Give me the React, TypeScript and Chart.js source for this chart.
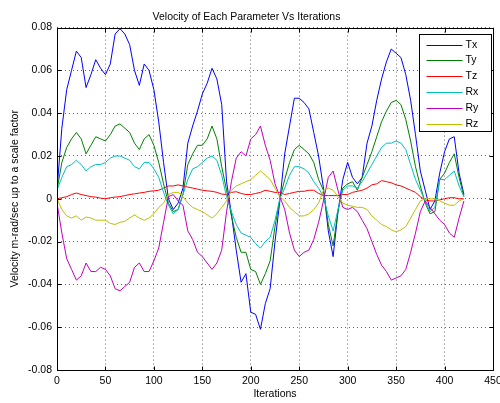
import React, { useEffect, useRef } from "react";
import { Chart, registerables } from "chart.js";

Chart.register(...registerables);

const iterations = [
  0, 5, 10, 15, 20, 25, 30, 35, 40, 45,
  50, 55, 60, 65, 70, 75, 80, 85, 90, 95,
  100, 105, 110, 115, 120, 125, 130, 135, 140, 145,
  150, 155, 160, 165, 170, 175, 180, 185, 190, 195,
  200, 205, 210, 215, 220, 225, 230, 235, 240, 245,
  250, 255, 260, 265, 270, 275, 280, 285, 290, 295,
  300, 305, 310, 315, 320, 325, 330, 335, 340, 345,
  350, 355, 360, 365, 370, 375, 380, 385, 390, 395,
  400, 405, 410, 415, 420,
];

const tx = [
  0.004, 0.033, 0.051, 0.060, 0.069, 0.066, 0.052, 0.058, 0.065, 0.061,
  0.058, 0.063, 0.077, 0.0795, 0.077, 0.072, 0.060, 0.053, 0.063, 0.060,
  0.051, 0.036, 0.017, 0.000, -0.005, -0.002, 0.005, 0.026, 0.034, 0.041,
  0.049, 0.054, 0.061, 0.056, 0.044, 0.008, -0.007, -0.024, -0.039, -0.035,
  -0.053, -0.054, -0.061, -0.049, -0.042, -0.020, -0.001, 0.021, 0.034, 0.047,
  0.047, 0.045, 0.042, 0.031, 0.020, 0.005, -0.015, -0.027, -0.006, 0.009,
  0.017, 0.010, 0.007, 0.010, 0.026, 0.034, 0.046, 0.056, 0.064, 0.070,
  0.068, 0.066, 0.058, 0.046, 0.030, 0.013, 0.004, -0.005, -0.001, 0.012,
  0.022, 0.028, 0.029, 0.012, 0.002,
];

const ty = [
  0.004, 0.017, 0.024, 0.028, 0.031, 0.028, 0.021, 0.025, 0.029, 0.028,
  0.027, 0.030, 0.034, 0.035, 0.033, 0.031, 0.026, 0.023, 0.028, 0.030,
  0.025, 0.017, 0.007, -0.002, -0.006, -0.005, 0.002, 0.016, 0.021, 0.025,
  0.025, 0.028, 0.034, 0.028, 0.015, 0.004, -0.008, -0.018, -0.025, -0.025,
  -0.033, -0.034, -0.040, -0.035, -0.029, -0.013, 0.000, 0.009, 0.017, 0.023,
  0.025, 0.023, 0.021, 0.017, 0.009, 0.004, -0.012, -0.022, -0.006, 0.005,
  0.007, 0.008, 0.004, 0.010, 0.016, 0.022, 0.029, 0.036, 0.041, 0.045,
  0.046, 0.044, 0.037, 0.027, 0.015, 0.006, -0.002, -0.007, -0.006, 0.009,
  0.012, 0.017, 0.021, 0.010, 0.001,
];

const tz = [
  0.000, 0.0005, 0.001, 0.002, 0.0027, 0.002, 0.0015, 0.001, 0.0008, 0.0003,
  0.000, 0.0005, 0.0008, 0.001, 0.0015, 0.002, 0.0023, 0.0027, 0.003, 0.0035,
  0.0037, 0.004, 0.005, 0.006, 0.006, 0.0065, 0.006, 0.0055, 0.005, 0.0045,
  0.004, 0.0037, 0.0035, 0.003, 0.0022, 0.002, 0.003, 0.0033, 0.0025, 0.002,
  0.002, 0.0025, 0.003, 0.004, 0.0035, 0.003, 0.003, 0.002, 0.0025, 0.003,
  0.0035, 0.0035, 0.004, 0.004, 0.0025, 0.0015, 0.0015, 0.0015, 0.0015, 0.002,
  0.002, 0.003, 0.0035, 0.004, 0.005, 0.0065, 0.007, 0.0085, 0.008, 0.0075,
  0.0065, 0.006, 0.005, 0.004, 0.003, 0.001, -0.0005, -0.001, -0.001, -0.0005,
  0.000, 0.0005, 0.0005, 0.000, 0.000,
];

const rx = [
  0.004, 0.010, 0.015, 0.016, 0.018, 0.016, 0.013, 0.015, 0.016, 0.016,
  0.017, 0.019, 0.020, 0.020, 0.019, 0.018, 0.015, 0.014, 0.017, 0.017,
  0.014, 0.010, 0.003, -0.003, -0.007, -0.005, 0.002, 0.009, 0.014, 0.015,
  0.017, 0.019, 0.020, 0.018, 0.011, 0.001, -0.006, -0.012, -0.016, -0.017,
  -0.018, -0.021, -0.023, -0.020, -0.018, -0.010, 0.000, 0.005, 0.011, 0.015,
  0.015, 0.014, 0.012, 0.008, 0.005, 0.001, -0.008, -0.015, -0.005, 0.004,
  0.006, 0.006, 0.005, 0.008, 0.012, 0.016, 0.020, 0.024, 0.026, 0.026,
  0.027, 0.026, 0.023, 0.016, 0.009, 0.004, -0.001, -0.006, -0.004, 0.009,
  0.009, 0.011, 0.013, 0.006, 0.001,
];

const ry = [
  -0.002, -0.016, -0.028, -0.033, -0.038, -0.036, -0.030, -0.034, -0.034, -0.032,
  -0.033, -0.036, -0.042, -0.043, -0.041, -0.039, -0.032, -0.030, -0.034, -0.034,
  -0.029, -0.023, -0.011, 0.001, 0.002, -0.001, -0.003, -0.015, -0.019, -0.025,
  -0.027, -0.030, -0.033, -0.030, -0.024, -0.006, 0.008, 0.019, 0.022, 0.020,
  0.028, 0.030, 0.034, 0.025, 0.018, 0.007, 0.001, -0.005, -0.016, -0.024,
  -0.027, -0.025, -0.024, -0.019, -0.011, -0.001, 0.010, 0.013, 0.004, -0.004,
  -0.005, -0.004, -0.006, -0.010, -0.014, -0.020, -0.026, -0.031, -0.034, -0.038,
  -0.037, -0.036, -0.033, -0.025, -0.016, -0.006, -0.001, -0.004, -0.007, -0.010,
  -0.012, -0.016, -0.018, -0.009, -0.001,
];

const rz = [
  0.000, -0.005, -0.008, -0.009, -0.008, -0.010, -0.0085, -0.009, -0.010, -0.010,
  -0.010, -0.0115, -0.012, -0.011, -0.0105, -0.009, -0.0075, -0.009, -0.010, -0.009,
  -0.007, -0.004, -0.002, 0.002, 0.003, 0.003, 0.001, -0.002, -0.004, -0.005,
  -0.006, -0.0075, -0.009, -0.007, -0.004, -0.001, 0.004, 0.006, 0.007, 0.008,
  0.009, 0.011, 0.013, 0.011, 0.009, 0.005, 0.001, -0.001, -0.004, -0.006,
  -0.008, -0.008, -0.007, -0.005, -0.002, 0.004, 0.005, 0.004, 0.001, -0.002,
  -0.003, -0.0035, -0.004, -0.004, -0.005, -0.008, -0.010, -0.012, -0.013, -0.0145,
  -0.0155, -0.0145, -0.013, -0.009, -0.005, -0.001, 0.000, 0.000, 0.000, -0.001,
  -0.002, -0.003, -0.003, -0.001, 0.000,
];

const seriesNames = ["Tx", "Ty", "Tz", "Rx", "Ry", "Rz"];
const seriesValues = [tx, ty, tz, rx, ry, rz];
const seriesColors = ["#0000ff", "#008000", "#ff0000", "#00bfbf", "#bf00bf", "#bfbf00"];

const chartTitle = "Velocity of Each Parameter Vs Iterations";
const xTitle = "Iterations";
const yTitle = "Velocity m-rad/sec up to a scale factor";

const FONT = "'Liberation Sans', Arial, Helvetica, sans-serif";

const framePlugin = {
  id: "matlabFrame",
  afterDatasetsDraw(chart: any) {
    const { ctx, chartArea: a, scales } = chart;
    const L = Math.round(a.left) + 0.5;
    const T = Math.round(a.top) + 0.5;
    const R = Math.round(a.right) + 0.5;
    const B = Math.round(a.bottom) + 0.5;
    ctx.save();
    ctx.strokeStyle = "#000";
    ctx.lineWidth = 1;
    ctx.setLineDash([]);
    ctx.beginPath();
    ctx.rect(L, T, R - L, B - T);
    const tl = 4;
    scales.x.ticks.forEach((t: any) => {
      const px = Math.round(scales.x.getPixelForValue(t.value)) + 0.5;
      ctx.moveTo(px, B);
      ctx.lineTo(px, B - tl);
      ctx.moveTo(px, T);
      ctx.lineTo(px, T + tl);
    });
    scales.y.ticks.forEach((t: any) => {
      const py = Math.round(scales.y.getPixelForValue(t.value)) + 0.5;
      ctx.moveTo(L, py);
      ctx.lineTo(L + tl, py);
      ctx.moveTo(R, py);
      ctx.lineTo(R - tl, py);
    });
    ctx.stroke();

    // legend box
    const bw = 72;
    const bh = 97;
    const bx = Math.round(a.right) - 74 + 0.5;
    const by = Math.round(a.top) + 6 + 0.5;
    ctx.fillStyle = "#fff";
    ctx.fillRect(bx, by, bw, bh);
    ctx.strokeStyle = "#000";
    ctx.strokeRect(bx, by, bw, bh);
    ctx.font = `10.5px ${FONT}`;
    ctx.textBaseline = "middle";
    ctx.textAlign = "left";
    chart.data.datasets.forEach((ds: any, i: number) => {
      const y = Math.round(by + 10 + i * 15.8) + 0.5;
      ctx.strokeStyle = ds.borderColor;
      ctx.beginPath();
      ctx.moveTo(bx + 7, y);
      ctx.lineTo(bx + 43, y);
      ctx.stroke();
      ctx.fillStyle = "#000";
      ctx.fillText(ds.label, bx + 46, y);
    });
    ctx.restore();
  },
};

export default function App() {
  const ref = useRef<HTMLCanvasElement | null>(null);

  useEffect(() => {
    if (!ref.current) return;
    const datasets = seriesNames.map((name, i) => ({
      label: name,
      data: iterations.map((x, k) => ({ x, y: seriesValues[i][k] })),
      borderColor: seriesColors[i],
      backgroundColor: seriesColors[i],
      borderWidth: 1,
      pointRadius: 0,
      tension: 0,
      fill: false,
      order: seriesNames.length - i,
    }));
    const font = { family: FONT, size: 10.5, weight: "normal" as const };
    const chart = new Chart(ref.current, {
      type: "line",
      data: { datasets },
      plugins: [framePlugin],
      options: {
        animation: false,
        responsive: false,
        devicePixelRatio: 1,
        layout: { padding: { left: 0, right: 7, top: 0, bottom: 0 } },
        plugins: {
          legend: { display: false },
          tooltip: { enabled: false },
          title: {
            display: true,
            text: chartTitle,
            color: "#000",
            font,
            padding: { top: 11, bottom: 4 },
          },
        },
        scales: {
          x: {
            type: "linear",
            min: 0,
            max: 450,
            ticks: { stepSize: 50, color: "#000", font, padding: 5, maxRotation: 0 },
            grid: { color: "rgba(0,0,0,0.6)", drawTicks: false, lineWidth: 1 },
            border: { display: false, dash: [1, 3] },
            title: { display: true, text: xTitle, color: "#000", font, padding: { top: 0, bottom: 3 } },
            afterFit: (s: any) => {
              s.height = 33;
              s.paddingLeft = 0;
              s.paddingRight = 0;
            },
          },
          y: {
            type: "linear",
            min: -0.08,
            max: 0.08,
            ticks: {
              stepSize: 0.02,
              color: "#000",
              font,
              padding: 5,
              callback: (v: any) => String(Number(Number(v).toFixed(2))),
            },
            grid: { color: "rgba(0,0,0,0.6)", drawTicks: false, lineWidth: 1 },
            border: { display: false, dash: [1, 3] },
            title: { display: true, text: yTitle, color: "#000", font, padding: { top: 9, bottom: 0 } },
            afterFit: (s: any) => {
              s.width = 57;
            },
          },
        },
      },
    });
    return () => chart.destroy();
  }, []);

  return (
    <div style={{ position: "absolute", left: 0, top: 0, width: 500, height: 403, background: "#fff" }}>
      <canvas ref={ref} width={500} height={403} style={{ display: "block" }} />
    </div>
  );
}
